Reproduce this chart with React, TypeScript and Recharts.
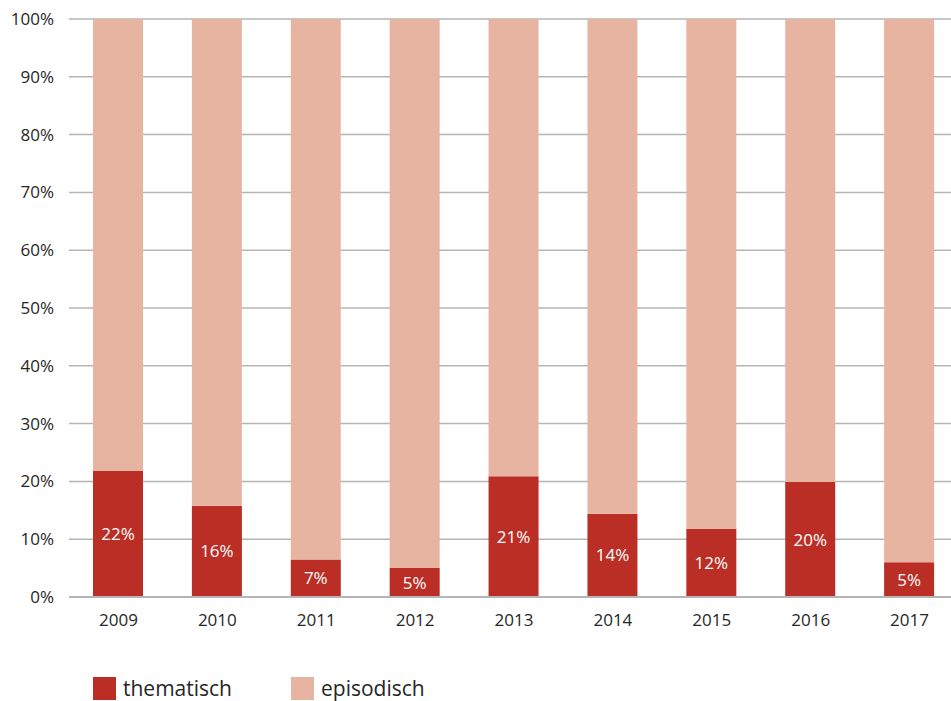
import React from "react";
import { BarChart, Bar, XAxis, YAxis, CartesianGrid, LabelList, Legend } from "recharts";

const years = ["2009", "2010", "2011", "2012", "2013", "2014", "2015", "2016", "2017"];
const thematisch = [21.8, 15.8, 6.5, 5.0, 20.9, 14.4, 11.8, 19.9, 6.0];
const episodisch = [78.2, 84.2, 93.5, 95.0, 79.1, 85.6, 88.2, 80.1, 94.0];
const thematischLabels = ["22%", "16%", "7%", "5%", "21%", "14%", "12%", "20%", "5%"];
const yTicks = [0, 10, 20, 30, 40, 50, 60, 70, 80, 90, 100];

const seriesNames = ["thematisch", "episodisch"];
const colors = ["#ba2e26", "#e8b4a2"];

const data = years.map((y, i) => ({
  year: y,
  thematisch: thematisch[i],
  episodisch: episodisch[i],
  label: thematischLabels[i],
}));

const FONT = "'Open Sans', 'Noto Sans', sans-serif";

function LegendContent() {
  return (
    <div style={{ display: "flex", flexDirection: "row", paddingLeft: 93, height: 24, alignItems: "center" }}>
      {seriesNames.map((n, i) => (
        <div key={n} style={{ display: "flex", alignItems: "center", width: 198, height: 23 }}>
          <div style={{ width: 23, height: 23, background: colors[i], marginRight: 7 }} />
          <span style={{ fontFamily: FONT, fontSize: 21, lineHeight: "22px", color: "#262626" }}>{n}</span>
        </div>
      ))}
    </div>
  );
}

export default function App() {
  return (
    <div style={{ position: "fixed", left: 0, top: 0, width: 951, height: 701, overflow: "hidden", background: "#fff" }}>
      <BarChart
        width={960}
        height={701}
        data={data}
        margin={{ top: 19, right: 1, left: 0, bottom: 50 }}
        style={{ fontFamily: FONT }}
      >
        <CartesianGrid vertical={false} stroke="#b5b5b5" strokeWidth={1.5} />
        <XAxis
          dataKey="year"
          height={30}
          tickLine={false}
          axisLine={{ stroke: "#b5b5b5", strokeWidth: 2 }}
          tickMargin={11}
          tick={{ fill: "#262626", fontSize: 17 }}
        />
        <YAxis
          width={69}
          domain={[0, 100]}
          ticks={yTicks}
          tickFormatter={(v) => `${v}%`}
          tickLine={false}
          axisLine={false}
          tickMargin={9}
          tick={{ fill: "#262626", fontSize: 17 }}
        />
        <Legend
          verticalAlign="bottom"
          content={<LegendContent />}
          wrapperStyle={{ top: 676, left: 0, bottom: "auto", width: 951 }}
        />
        <Bar dataKey="thematisch" stackId="a" fill={colors[0]} barSize={50} isAnimationActive={false}>
          <LabelList dataKey="label" position="center" fill="#ffffff" fontSize={17} />
        </Bar>
        <Bar dataKey="episodisch" stackId="a" fill={colors[1]} barSize={50} isAnimationActive={false} />
      </BarChart>
    </div>
  );
}
